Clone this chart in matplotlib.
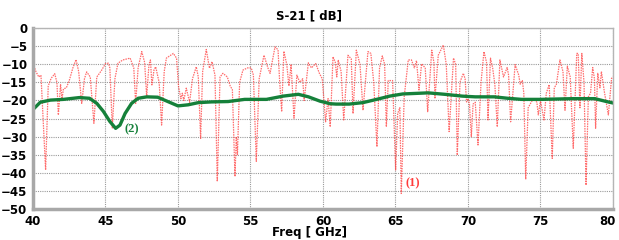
import matplotlib

matplotlib.use("Agg")
import matplotlib.pyplot as plt
import matplotlib.transforms as mtransforms

# --------------------------------------------------------------------------- #
# Data
# --------------------------------------------------------------------------- #
# (1) measured S21, dotted red
freq_meas = [
    40.0, 40.2, 40.4, 40.55, 40.87, 41.05, 41.25, 41.5, 41.65, 41.75,
    41.9, 42.0, 42.1, 42.3, 42.5, 42.75, 42.97, 43.15, 43.36, 43.55,
    43.7, 43.95, 44.2, 44.4, 44.55, 44.74, 45.0, 45.2, 45.3, 45.47,
    45.65, 45.86, 46.2, 46.7, 46.95, 47.08, 47.25, 47.5, 47.7, 47.84,
    48.0, 48.1, 48.2, 48.35, 48.46, 48.7, 48.87, 49.05, 49.2, 49.68,
    49.9, 50.04, 50.2, 50.3, 50.4, 50.57, 50.8, 51.0, 51.26, 51.4,
    51.56, 51.7, 51.95, 52.17, 52.35, 52.55, 52.71, 52.9, 53.1, 53.4,
    53.6, 53.75, 53.93, 54.02, 54.1, 54.25, 54.48, 54.8, 55.05, 55.2,
    55.4, 55.6, 55.93, 56.2, 56.35, 56.69, 56.9, 57.0, 57.15, 57.3,
    57.5, 57.65, 57.8, 58.0, 58.2, 58.4, 58.6, 58.7, 58.99, 59.2,
    59.5, 59.75, 59.95, 60.18, 60.35, 60.5, 60.69, 60.85, 60.95, 61.05,
    61.25, 61.43, 61.72, 61.95, 62.07, 62.3, 62.55, 62.76, 63.1, 63.3,
    63.5, 63.72, 63.9, 64.09, 64.25, 64.37, 64.5, 64.8, 65.01, 65.15,
    65.3, 65.4, 65.6, 65.88, 66.1, 66.3, 66.45, 66.62, 66.8, 67.05,
    67.22, 67.5, 67.65, 67.72, 67.95, 68.3, 68.5, 68.7, 69.0, 69.15,
    69.26, 69.45, 69.68, 69.8, 69.9, 70.0, 70.1, 70.23, 70.35, 70.5,
    70.69, 70.9, 71.1, 71.28, 71.38, 71.55, 71.7, 71.85, 72.02, 72.2,
    72.45, 72.7, 72.8, 72.94, 73.25, 73.5, 73.6, 73.75, 73.85, 73.98,
    74.15, 74.5, 74.75, 74.85, 75.0, 75.24, 75.4, 75.6, 75.81, 75.95,
    76.1, 76.34, 76.55, 76.69, 76.85, 77.05, 77.26, 77.5, 77.6, 77.72,
    77.85, 78.0, 78.14, 78.3, 78.45, 78.6, 78.72, 78.8, 78.95, 79.1,
    79.2, 79.4, 79.68, 79.9, 80.0,
]
s21_meas = [
    -9.8, -12.0, -13.5, -13.0, -39.2, -16.0, -13.9, -12.6, -15.0, -24.0,
    -15.6, -19.5, -16.8, -16.5, -14.5, -11.0, -8.7, -12.0, -20.8, -14.0,
    -12.1, -13.5, -26.3, -13.5, -12.7, -11.6, -9.8, -9.7, -11.0, -27.6,
    -14.0, -9.7, -8.8, -8.3, -11.0, -20.8, -11.0, -6.5, -9.5, -19.0,
    -10.0, -8.8, -15.7, -11.5, -10.7, -15.0, -26.8, -12.0, -8.3, -7.0,
    -8.3, -16.2, -19.5, -18.0, -20.0, -16.6, -20.5, -14.0, -10.7, -13.5,
    -30.5, -12.0, -5.9, -11.1, -9.3, -13.0, -42.4, -13.5, -12.5, -13.5,
    -16.0, -17.0, -41.0, -30.0, -35.0, -15.0, -11.6, -11.0, -11.0, -13.0,
    -36.8, -14.0, -7.5, -11.0, -12.5, -5.2, -6.0, -14.0, -23.1, -6.4,
    -10.0, -16.0, -10.0, -24.9, -13.0, -15.0, -14.0, -20.0, -9.6, -11.0,
    -9.8, -12.5, -14.0, -25.9, -19.5, -27.3, -7.9, -9.5, -13.5, -8.8,
    -12.0, -25.4, -7.5, -8.5, -23.6, -6.1, -10.0, -22.7, -6.5, -7.0,
    -15.0, -32.8, -11.0, -7.7, -10.0, -27.3, -14.5, -14.5, -39.2, -23.6,
    -22.0, -45.7, -19.0, -8.8, -8.8, -11.0, -9.0, -17.1, -9.9, -11.0,
    -23.1, -6.1, -9.5, -19.5, -7.5, -4.7, -10.0, -28.6, -8.3, -10.0,
    -35.1, -14.9, -12.5, -14.0, -20.4, -19.5, -21.0, -30.0, -21.0, -20.5,
    -32.3, -15.0, -6.5, -9.5, -25.4, -8.3, -11.0, -15.5, -27.3, -8.8,
    -13.5, -10.9, -13.0, -25.9, -10.1, -13.0, -15.5, -14.5, -18.0, -41.8,
    -22.0, -19.5, -20.5, -24.0, -20.0, -25.4, -18.0, -15.6, -36.0, -16.5,
    -15.5, -8.8, -12.0, -22.7, -10.5, -13.5, -33.2, -7.0, -7.0, -22.0,
    -7.0, -15.0, -43.4, -19.0, -18.0, -10.9, -14.0, -27.7, -12.5, -16.5,
    -12.0, -17.5, -24.0, -13.9, -13.5,
]

# (2) averaged S21, green
freq_avg = [
    40.0, 40.5, 41.2, 42.1, 43.2, 43.9, 44.4, 44.85, 45.3, 45.7,
    46.0, 46.35, 46.8, 47.25, 47.85, 48.6, 49.3, 50.0, 50.7, 51.4,
    52.3, 53.45, 54.6, 56.1, 57.25, 58.3, 59.0, 59.8, 60.5, 60.9,
    61.8, 62.75, 63.7, 64.6, 65.5, 66.1, 67.25, 68.4, 69.6, 70.5,
    71.8, 72.75, 73.7, 75.0, 77.25, 78.75, 79.55, 80.0,
]
s21_avg = [
    -22.5, -20.5, -19.9, -19.7, -19.2, -19.4, -20.8, -23.0, -25.8, -27.7,
    -26.8, -23.6, -20.8, -19.4, -19.0, -19.1, -20.3, -21.5, -21.2, -20.6,
    -20.4, -20.3, -19.7, -19.7, -18.8, -18.3, -19.0, -20.2, -20.9, -21.0,
    -21.0, -20.6, -19.7, -18.8, -18.2, -18.1, -17.9, -18.3, -18.8, -19.0,
    -19.0, -19.4, -19.7, -19.7, -19.5, -19.5, -20.3, -20.7,
]

x_ticks = list(range(40, 81, 5))
y_ticks = list(range(-50, 1, 5))

RED = "#ff3b3b"
GREEN = "#15803a"

# --------------------------------------------------------------------------- #
# Plot
# --------------------------------------------------------------------------- #
fig = plt.figure(figsize=(6.19, 2.40), dpi=100)
ax = fig.add_axes([0.0533, 0.129, 0.937, 0.754])

ax.plot(freq_meas, s21_meas, color=RED, lw=0.9, ls=(0, (1.2, 0.8)), alpha=0.75)
ax.plot(freq_avg, s21_avg, color=GREEN, lw=2.4, solid_capstyle="round")

ax.set_xlim(40, 80)
ax.set_ylim(-50, 0)
ax.set_xticks(x_ticks)
ax.set_yticks(y_ticks)
ax.tick_params(length=0, labelsize=8.5, pad=4)
for lab in ax.get_xticklabels() + ax.get_yticklabels():
    lab.set_fontweight("bold")

# last x label sits right at the figure edge; nudge it inwards
last = ax.get_xticklabels()[-1]
last.set_transform(last.get_transform() +
                   mtransforms.ScaledTranslation(-4 / 72, 0, fig.dpi_scale_trans))

ax.grid(True, color="#9a9a9a", ls=(0, (1, 1)), lw=0.8)
for side in ("top", "right"):
    ax.spines[side].set_color("#b5b5b5")
    ax.spines[side].set_linewidth(1.0)
for side in ("left", "bottom"):
    ax.spines[side].set_color("#a8a8a8")
    ax.spines[side].set_linewidth(2.5)

ax.text(65.7, -42.8, "(1)", color=RED, fontsize=9, fontweight="bold",
        family="Liberation Serif", va="center", ha="left")
ax.text(46.3, -28.0, "(2)", color=GREEN, fontsize=9, fontweight="bold",
        family="Liberation Serif", va="center", ha="left")

fig.text(0.5, 0.935, "S-21 [ dB]", ha="center", va="center",
         fontsize=8.5, fontweight="bold")
fig.text(0.5, 0.03, "Freq [ GHz]", ha="center", va="center",
         fontsize=8.5, fontweight="bold")

fig.savefig("out.png", dpi=100)
